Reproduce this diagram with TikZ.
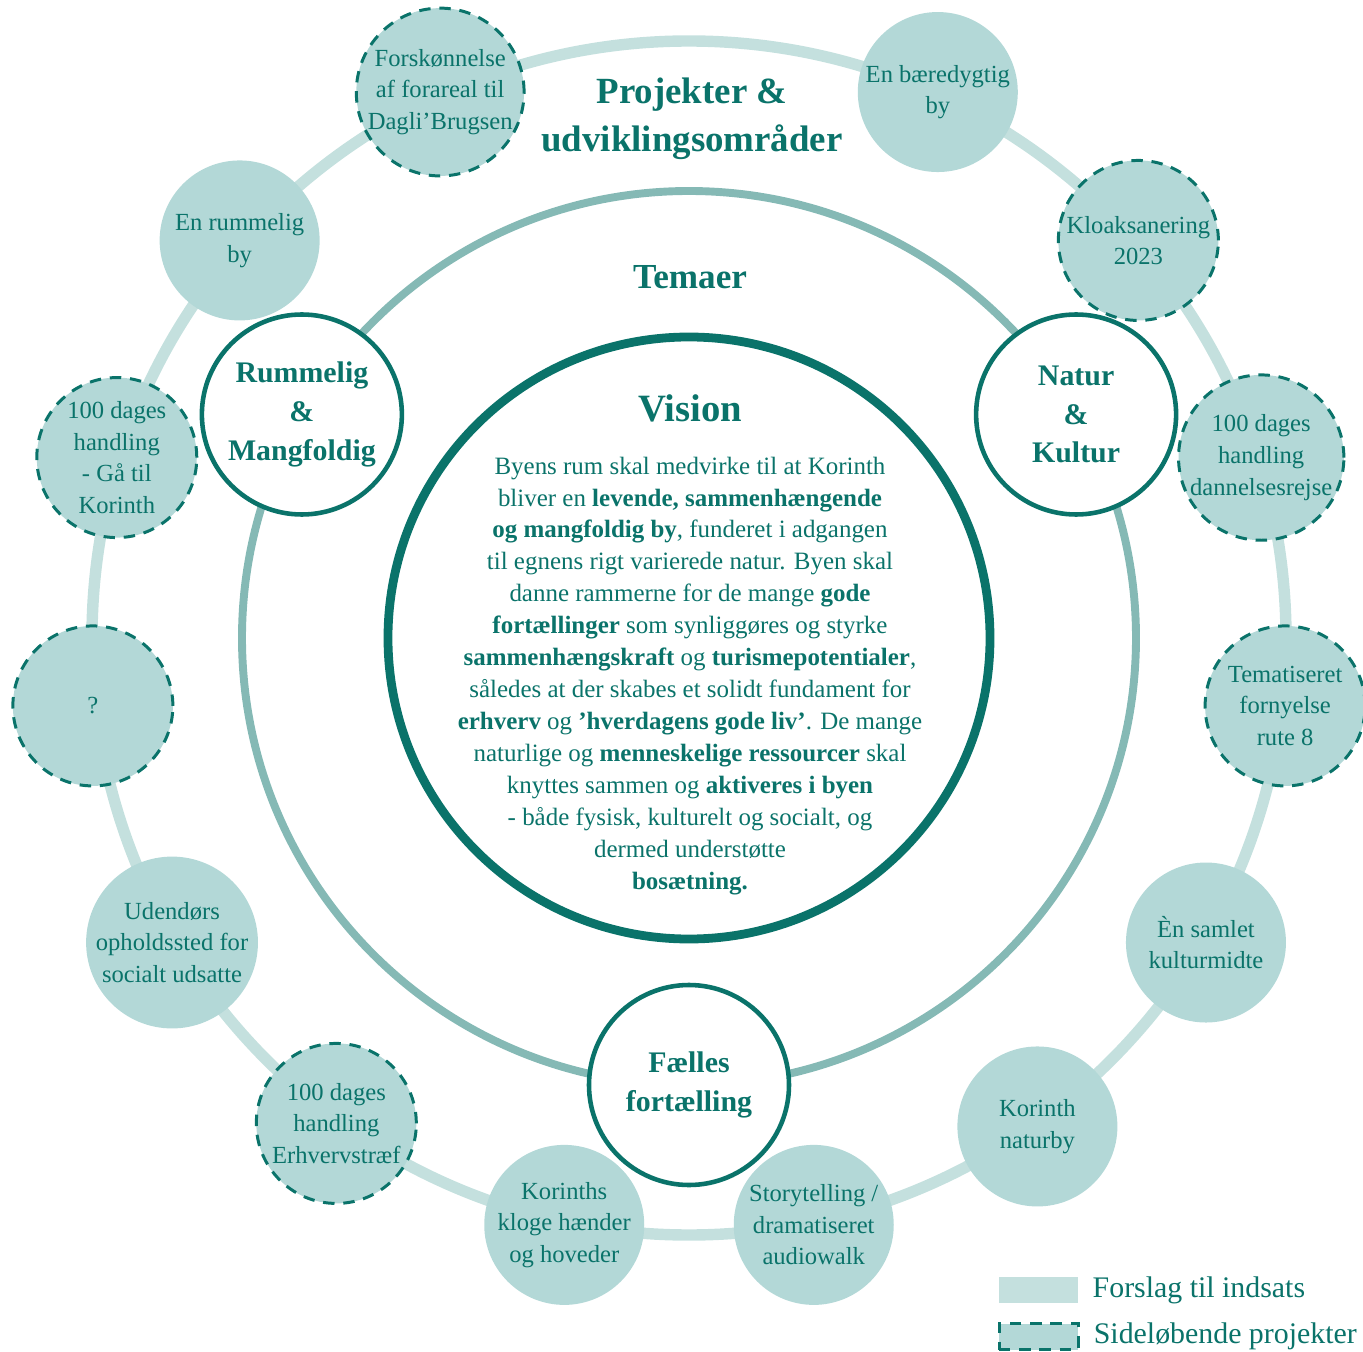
\documentclass[tikz,border=0pt]{standalone}
\usepackage{fontspec}
\setmainfont{Liberation Serif}
\usetikzlibrary{positioning}
\definecolor{korteal}{RGB}{10,115,106}
\definecolor{ringlight}{RGB}{196,224,222}
\definecolor{ringmid}{RGB}{133,185,181}
\definecolor{circfill}{RGB}{179,216,215}
\tikzset{
    project/.style={circle, fill=circfill, minimum size=3.2cm, inner sep=0pt,
            align=center, text=korteal, font=\fontsize{14}{18}\selectfont},
    sideproject/.style={project, draw=korteal, line width=1.7pt,
            dash pattern=on 6.5pt off 5pt},
    theme/.style={circle, draw=korteal, fill=white, line width=2.6pt,
            minimum size=4cm, inner sep=0pt, align=center, text=korteal,
            font=\fontsize{17}{22}\selectfont\bfseries},
    headline/.style={align=center, text=korteal,
            font=\fontsize{21}{27}\selectfont\bfseries},
    legendbox/.style={rectangle, fill=ringlight, minimum width=1.58cm,
            minimum height=0.52cm, inner sep=0pt},
    legendtext/.style={text=korteal, font=\fontsize{17}{20}\selectfont,
            inner sep=0pt},
}

\begin{document}
\begin{tikzpicture}
        %page size
        \useasboundingbox (-13.78, -14.26) rectangle (13.48, 12.76);
        %draw the rings
        \draw[ringlight, line width=6.5pt] (0, 0) circle (11.94);
        \draw[ringmid, line width=4.5pt] (0, 0) circle (8.94);
        \node[circle, draw=korteal, line width=5pt, minimum size=12.04cm] (vision) at (0, 0) {};
        %headlines
        \node[headline] (projekter) at (0.06, 10.38) {Projekter \&\\udviklingsområder};
        \node[headline, font=\fontsize{20}{24}\selectfont\bfseries] (temaer) at (0.02, 7.22) {Temaer};
        \node[headline, font=\fontsize{22}{26}\selectfont\bfseries] (visiontitle) at (0.02, 4.6) {Vision};
        %vision text
        \node[align=center, text=korteal, font=\fontsize{14.2}{18.2}\selectfont] (visiontext) at (0.02, -0.76) {%
            Byens rum skal medvirke til at Korinth\\
            bliver en \textbf{levende, sammenhængende}\\
            \textbf{og mangfoldig by}, funderet i adgangen\\
            til egnens rigt varierede natur. Byen skal\\
            danne rammerne for de mange \textbf{gode}\\
            \textbf{fortællinger} som synliggøres og styrke\\
            \textbf{sammenhængskraft} og \textbf{turismepotentialer},\\
            således at der skabes et solidt fundament for\\
            \textbf{erhverv} og \textbf{’hverdagens gode liv’}. De mange\\
            naturlige og \textbf{menneskelige ressourcer} skal\\
            knyttes sammen og \textbf{aktiveres i byen}\\
            - både fysisk, kulturelt og socialt, og\\
            dermed understøtte\\
            \textbf{bosætning.}};
        %themes
        \node[theme] (rummelig) at (150:8.94) {Rummelig\\\&\\Mangfoldig};
        \node[theme] (natur) at (30:8.94) {Natur\\\&\\Kultur};
        \node[theme] (faelles) at (270:8.94) {Fælles\\fortælling};
        %projects, clockwise from the top
        \node[project] (baeredygtig) at (65.5:12) {En bæredygtig\\by};
        \node[sideproject] (kloak) at (41.5:12) {Kloaksanering\\2023};
        \node[sideproject] (dannelse) at (17.5:12) {100 dages\\handling\\dannelsesrejse};
        \node[sideproject] (rute) at (-6.5:12) {Tematiseret\\fornyelse\\rute 8};
        \node[project] (kultur) at (-30.5:12) {Èn samlet\\kulturmidte};
        \node[project] (naturby) at (-54.5:12) {Korinth\\naturby};
        \node[project] (story) at (-78:12) {Storytelling /\\dramatiseret\\audiowalk};
        \node[project] (haender) at (-102:12) {Korinths\\kloge hænder\\og hoveder};
        \node[sideproject] (erhverv) at (-126:12) {100 dages\\handling\\Erhvervstræf};
        \node[project] (udendoers) at (-149.5:12) {Udendørs\\opholdssted for\\socialt udsatte};
        \node[sideproject] (ukendt) at (-173.5:12) {?};
        \node[sideproject] (gaatil) at (162.5:12) {100 dages\\handling\\- Gå til\\Korinth};
        \node[project] (rumby) at (138.5:12) {En rummelig\\by};
        \node[sideproject] (forareal) at (114.5:12) {Forskønnelse\\af forareal til\\Dagli’Brugsen};
        %legend
        \node[legendbox] (legforslag) at (6.99, -13.04) {};
        \node[legendbox, fill=circfill, draw=korteal, line width=1.7pt,
            dash pattern=on 6.5pt off 5pt] (legside) at (6.99, -13.97) {};
        \node[legendtext, right=0.28cm of legforslag] (txtforslag) {Forslag til indsats};
        \node[legendtext, right=0.28cm of legside] (txtside) {Sideløbende projekter};
    \end{tikzpicture}
\end{document}
